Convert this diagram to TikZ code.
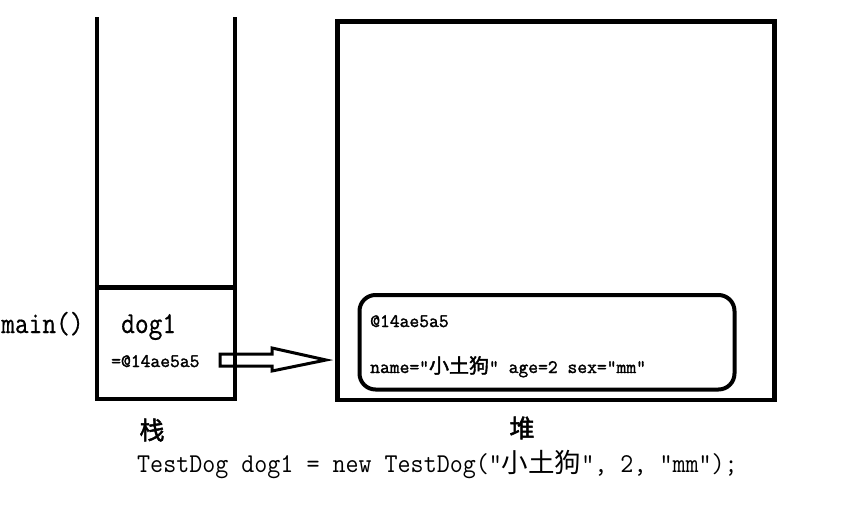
\documentclass[tikz,border=0pt]{standalone}
\usepackage{fontspec}
\newfontfamily\mono{Latin Modern Mono}[Scale=0.9524]
\newfontfamily\monobig{Latin Modern Mono}[Scale=0.9524,FakeStretch=0.875,FakeBold=0.6]
\newfontfamily\monocode{Latin Modern Mono}[Scale=0.9524,FakeStretch=0.9286]
\newfontfamily\monob{Latin Modern Mono}[Scale=0.9524,FakeBold=1.6]
\newfontfamily\cjk{Noto Sans CJK SC}
\newfontfamily\cjkb{Noto Sans CJK SC}[FakeBold=2]
\tikzset{
  wall/.style={line width=4.8pt, line join=miter},
  inner/.style={line width=4pt, rounded corners=16pt},
  hollowarrow/.style={line width=3pt, line join=miter},
  txt/.style={inner sep=0pt, anchor=base west},
  big/.style={txt, font=\monobig\fontsize{32}{32}\selectfont},
  small/.style={txt, font=\monob\fontsize{20}{20}\selectfont},
  code/.style={txt, font=\monocode\fontsize{28.6}{28.6}\selectfont},
  title/.style={inner sep=0pt, font=\cjkb\fontsize{25}{25}\selectfont},
}
\begin{document}
\begin{tikzpicture}[x=1pt,y=-1pt]
\useasboundingbox (0,0) rectangle (844,528);
% arrow (hollow) from stack frame to heap object
\coordinate (arrS) at (220,360);
\coordinate (arrE) at (326,360);
\draw[hollowarrow] (arrS) ++(0,-6) -- ++(52,0) -- ++(0,-6) -- (arrE)
  -- ++(-54,11) -- ++(0,-5) -- ++(-52,0) -- cycle;
% stack
\draw[wall] (97,17) -- (97,399) -- (235,399) -- (235,17);
\draw[wall] (97,287.5) -- (235,287.5);
% heap
\draw[wall] (337.5,21.5) rectangle (774.5,400);
\draw[inner] (359.5,295) rectangle (734.5,389.5);
% texts
\node[big] (main) at (1,333) {main()};
\node[big] (dog) at (121,333) {dog1};
\node[small] (ref) at (111,367) {=@14ae5a5};
\node[small] (addr) at (370,327) {@14ae5a5};
\node[small] (fields) at (370,373) {name="{\cjkb 小土狗}" age=2 sex="mm"};
\node[title] (stack) at (152,430) {栈};
\node[title] (heap) at (522,428) {堆};
\node[code] (stmt) at (137,472) {TestDog dog1 = new TestDog("{\cjk\fontsize{26.5}{26.5}\selectfont 小土狗}", 2, "mm");};
\end{tikzpicture}
\end{document}
